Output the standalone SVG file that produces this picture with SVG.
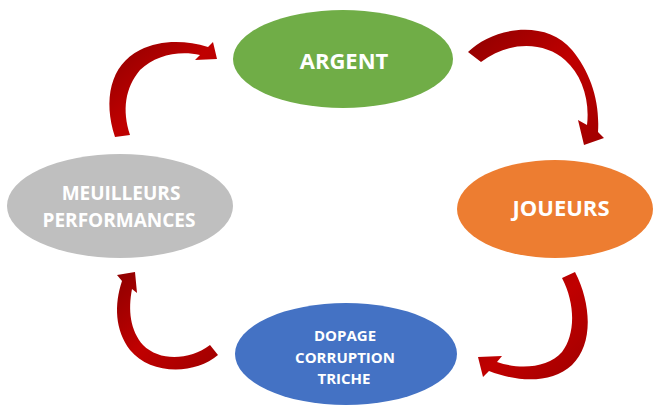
<svg xmlns="http://www.w3.org/2000/svg" width="668" height="408" viewBox="0 0 668 408">
<defs>
<linearGradient id="red" x1="0" y1="0" x2="1" y2="1">
<stop offset="0" stop-color="#8E0000"/>
<stop offset="0.5" stop-color="#C00000"/>
<stop offset="1" stop-color="#A00000"/>
</linearGradient>
<style>
.lbl{font-family:"Open Sans","Liberation Sans",sans-serif;font-weight:bold;fill:#FFFFFF;text-anchor:middle}
.arr{fill:url(#red)}
</style>
</defs>
<rect width="668" height="408" fill="#FFFFFF"/>
<g id="connectors">
<path class="arr" d="M468,52 C492,28 545,18 572,50 C590,72 600,100 598,132 L604,138 L584,145 L578,120 L587,125 C590,100 582,75 565,60 C545,42 510,40 481,62 Z"/>
<path class="arr" d="M575,272 C592,305 593,345 572,365 C552,383 520,383 489,371 L483,377 L478,357 L502,356 L497,362 C520,370 548,368 562,352 C575,335 576,305 562,278 Z"/>
<path class="arr" d="M218,355 C195,375 150,375 130,350 C115,330 114,305 122,281 L117,275 L135,272 L137,293 L132,289 C128,310 130,330 143,345 C160,362 190,360 210,345 Z"/>
<path class="arr" d="M115,137 C103,100 110,65 140,50 C160,40 185,40 208,47 L213,42 L217,59 L195,60 L200,55 C180,50 155,55 140,70 C125,88 122,110 130,135 Z"/>
</g>
<g id="argent">
<ellipse cx="343" cy="59" rx="110" ry="49" fill="#70AD47"/>
<text class="lbl" x="344" y="69" font-size="22">ARGENT</text>
</g>
<g id="joueurs">
<ellipse cx="555" cy="209" rx="98" ry="49" fill="#ED7D31"/>
<text class="lbl" x="561" y="216" font-size="22">JOUEURS</text>
</g>
<g id="performances">
<ellipse cx="120" cy="206" rx="113" ry="52" fill="#BFBFBF"/>
<text class="lbl" x="121" y="200" font-size="19">MEUILLEURS</text>
<text class="lbl" x="119" y="227" font-size="19">PERFORMANCES</text>
</g>
<g id="dopage">
<ellipse cx="346" cy="354" rx="111" ry="51" fill="#4472C4"/>
<text class="lbl" x="345" y="341" font-size="15">DOPAGE</text>
<text class="lbl" x="345" y="363" font-size="15">CORRUPTION</text>
<text class="lbl" x="344" y="384" font-size="15">TRICHE</text>
</g>
</svg>
